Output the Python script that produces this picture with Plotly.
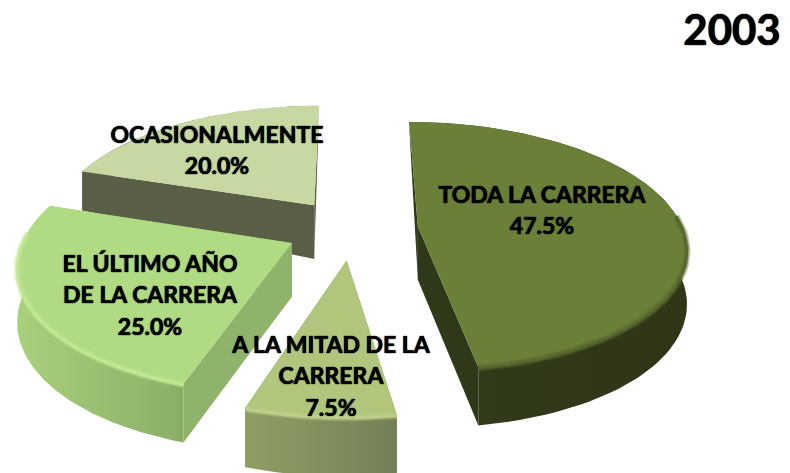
import numpy as np
import plotly.graph_objects as go

# ---- data
categories = ["TODA LA CARRERA", "A LA MITAD DE LA CARRERA", "EL ÚLTIMO AÑO DE LA CARRERA", "OCASIONALMENTE"]
values = [47.5, 7.5, 25.0, 20.0]
label_lines = [["TODA LA CARRERA"], ["A LA MITAD DE LA", "CARRERA"], ["EL ÚLTIMO AÑO", "DE LA CARRERA"], ["OCASIONALMENTE"]]
title_text = "2003"

# ---- styles (top, wall left, wall right, radial wall, bevel)
styles = [
    ("#6A7F38", "#323B1A", "#2E3617", "#2F3818", "#56672D"),
    ("#B0C67C", "#8F9F63", "#757F58", "#8A9A60", "#BDD28A"),
    ("#B1DB82", "#A9D07C", "#8BAE67", "#90B36B", "#C2E894"),
    ("#C7D8A2", "#5A5E47", "#5A5E47", "#5A5E47", "#C7D8A2"),
]
# ---- projection of the tilted pie onto the page (pixels)
GX, GY, A, B, K, PULL = 352.0, 229.0, 265.0, 121.5, 0.154, 0.25
DEPTH_V = [-1.3, 0.0, 0.2, 0.5, 1.05]
DEPTH_D = [60, 53, 54, 40, 0]
LABEL_X = [542, 331, 150, 217]
LABEL_Y = [197, 347, 266, 137]
LINE_STEP = 31.5
FONT = "Lato"
HEAVY = "0 0 1px #000, 0 0 1px #000"


def project(u, v):
    f = 1 / (1 + K * v)
    return GX + A * u * f, GY - B * v * f


def depth(v):
    return np.interp(v, DEPTH_V, DEPTH_D)


fig = go.Figure()
total = sum(values)
edges = np.cumsum([0] + values) / total * 2 * np.pi
draw_order = [3, 2, 1, 0]


def poly(xs, ys, c0, c1):
    kw = dict(fillcolor=c0) if c0 == c1 else dict(
        fillgradient=dict(type="horizontal", colorscale=[[0, c0], [1, c1]]))
    fig.add_trace(go.Scatter(x=xs, y=ys, mode="lines", fill="toself", line=dict(width=0, color=c0),
                             hoverinfo="skip", showlegend=False, **kw))


for i in draw_order:
    t0, t1 = edges[i], edges[i + 1]
    mid = (t0 + t1) / 2
    cu, cv = PULL * np.sin(mid), PULL * np.cos(mid)
    th = np.linspace(t0, t1, 90)
    au, av = cu + np.sin(th), cv + np.cos(th)
    ax, ay = project(au, av)
    cx, cy = project(cu, cv)
    ad = depth(av)
    cd = float(depth(cv))
    top, wl, wr, rad, bev = styles[i]
    # radial walls
    poly([cx, ax[0], ax[0], cx], [cy, ay[0], ay[0] + ad[0], cy + cd], rad, rad)
    poly([cx, ax[-1], ax[-1], cx], [cy, ay[-1], ay[-1] + ad[-1], cy + cd], rad, rad)
    # outer wall
    poly(np.r_[ax, ax[::-1]], np.r_[ay, (ay + ad)[::-1]], wl, wr)
    # top face
    poly(np.r_[cx, ax, cx], np.r_[cy, ay, cy], top, top)
    # soft rim between the top face and the outer wall
    front = np.cos(th) < 0.1
    for width, alpha, off in [(7, 0.35, 1), (4, 0.6, 1), (2, 1.0, 1)]:
        fig.add_trace(go.Scatter(x=ax[front], y=ay[front] + off, mode="lines", opacity=alpha,
                                 line=dict(color=bev, width=width), hoverinfo="skip", showlegend=False))

# ---- labels
tx, ty, tt = [], [], []
for i in range(len(categories)):
    rows = label_lines[i] + [f"{values[i]:.1f}%"]
    for j, row in enumerate(rows):
        tx.append(LABEL_X[i])
        ty.append(LABEL_Y[i] + j * LINE_STEP)
        tt.append(row)
fig.add_trace(go.Scatter(x=tx, y=ty, text=tt, mode="text", textposition="middle center",
                         textfont=dict(family=FONT, size=23, color="#000000", weight="bold", shadow=HEAVY),
                         hoverinfo="skip", showlegend=False, cliponaxis=False))
fig.add_trace(go.Scatter(x=[732], y=[34], text=[title_text], mode="text", textposition="middle center",
                         textfont=dict(family=FONT, size=42, color="#000000", weight="bold", shadow=HEAVY),
                         hoverinfo="skip", showlegend=False, cliponaxis=False))

fig.update_layout(
    width=790, height=473, margin=dict(l=0, r=0, t=0, b=0),
    paper_bgcolor="white", plot_bgcolor="white", showlegend=False,
    xaxis=dict(range=[0, 790], visible=False, fixedrange=True),
    yaxis=dict(range=[473, 0], visible=False, fixedrange=True),
)
fig.write_html("out.html", config={"displayModeBar": False},
               post_script="document.body.style.margin='0';document.documentElement.style.overflow='hidden';")
